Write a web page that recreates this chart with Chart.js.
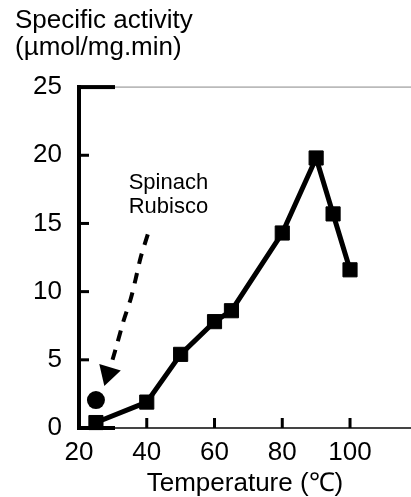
<!DOCTYPE html>
<html>
<head>
<meta charset="utf-8">
<script src="https://cdn.jsdelivr.net/npm/chart.js@4.4.1/dist/chart.umd.min.js"></script>
<style>
  html, body { margin: 0; padding: 0; background: #fff; }
  #wrap { width: 411px; height: 497px; }
</style>
</head>
<body>
<div id="wrap"><canvas id="chart" width="411" height="497"></canvas></div>
<script>
// thermophilic enzyme activity vs temperature
const temps = [25, 40, 50, 60, 65, 80, 90, 95, 100];
const activity = [0.4, 1.9, 5.4, 7.8, 8.6, 14.3, 19.8, 15.7, 11.6];

// spinach Rubisco reference point
const spinachTemp = [25];
const spinachActivity = [2.05];

// dashed arrow from the label down to the spinach point
const arrowX = [40.3, 38.2, 36.7, 35.3, 33.2, 31.4, 29.9];
const arrowY = [14.2, 12.5, 10.9, 9.5, 7.9, 6.3, 5.0];
const arrowHeadX = [28.6];
const arrowHeadY = [4.0];

const xTicks = [20, 40, 60, 80, 100];
const yTicks = [0, 5, 10, 15, 20, 25];

const noteLines = ["Spinach", "Rubisco"];
const noteX = 46.4;
const noteY = [18.0, 16.2];

const FONT = "'Liberation Sans', Arial, Helvetica, sans-serif";

function pts(xs, ys) {
    return xs.map((v, i) => ({x: v, y: ys[i]}));
}

// inward tick marks, frame corners and the text note
const frame = {
    id: "frame",
    beforeDatasetsDraw(chart) {
        let {ctx, chartArea: a, scales: {x, y}} = chart;
        ctx.save();
        ctx.fillStyle = "#000";
        yTicks.slice(1, -1).forEach(v => {
            let py = y.getPixelForValue(v);
            ctx.fillRect(a.left, py - 1.5, 10, 3);
        });
        xTicks.slice(1).forEach(v => {
            let px = x.getPixelForValue(v);
            ctx.fillRect(px - 1.5, a.bottom - 10, 3, 10);
        });
        // top edge of the frame
        ctx.fillStyle = "#888";
        ctx.fillRect(a.left, a.top - 0.5, a.right - a.left, 1);
        ctx.fillStyle = "#000";
        ctx.fillRect(a.left - 2, a.top - 2, 38, 4);
        ctx.fillRect(a.left - 2, a.bottom - 2, 38, 4);
        ctx.restore();
    },
    afterDraw(chart) {
        let {ctx, scales: {x, y}} = chart;
        ctx.save();
        ctx.fillStyle = "#000";
        ctx.font = "22px " + FONT;
        ctx.textAlign = "center";
        ctx.textBaseline = "middle";
        noteLines.forEach((t, i) => {
            ctx.fillText(t, x.getPixelForValue(noteX), y.getPixelForValue(noteY[i]));
        });
        ctx.restore();
    }
};

new Chart(document.getElementById("chart"), {
    type: "scatter",
    data: {
        datasets: [
            {
                data: pts(arrowX, arrowY),
                showLine: true,
                borderColor: "#000",
                borderWidth: 4,
                borderDash: [11, 9],
                tension: 0.3,
                pointRadius: 0,
                clip: false
            },
            {
                data: pts(arrowHeadX, arrowHeadY),
                pointStyle: "triangle",
                rotation: 197,
                pointRadius: 13,
                backgroundColor: "#000",
                borderColor: "#000",
                borderWidth: 0,
                clip: false
            },
            {
                data: pts(spinachTemp, spinachActivity),
                pointStyle: "circle",
                pointRadius: 9,
                backgroundColor: "#000",
                borderColor: "#000",
                borderWidth: 0,
                clip: false
            },
            {
                data: pts(temps, activity),
                showLine: true,
                borderColor: "#000",
                borderWidth: 5,
                pointStyle: "rect",
                pointRadius: 10,
                backgroundColor: "#000",
                pointBorderColor: "#000",
                pointBorderWidth: 1,
                clip: false
            }
        ]
    },
    options: {
        responsive: false,
        animation: false,
        layout: {autoPadding: false, padding: {top: 0, left: 15, right: 0, bottom: 0}},
        plugins: {
            legend: {display: false},
            tooltip: {enabled: false},
            title: {
                display: true,
                text: ["Specific activity", "(\u00b5mol/mg.min)"],
                align: "start",
                color: "#000",
                font: {family: FONT, size: 26, weight: "normal", lineHeight: 1.04},
                padding: {top: 7, bottom: 26}
            }
        },
        scales: {
            x: {
                type: "linear",
                min: 20,
                max: 118,
                afterBuildTicks: s => { s.ticks = xTicks.map(v => ({value: v})); },
                afterFit: s => { s.height = 69; s.paddingLeft = 0; s.paddingRight = 0; },
                grid: {display: false, drawTicks: false},
                border: {display: true, color: "#444", width: 2},
                ticks: {color: "#000", padding: 9, font: {family: FONT, size: 26}},
                title: {
                    display: true,
                    text: "Temperature (\u2103)",
                    color: "#000",
                    font: {family: FONT, size: 26, lineHeight: 1},
                    padding: {top: 0, bottom: 0}
                }
            },
            y: {
                min: 0,
                max: 25,
                afterBuildTicks: s => { s.ticks = yTicks.map(v => ({value: v})); },
                afterFit: s => { s.width = 64; },
                grid: {display: false, drawTicks: false},
                border: {display: true, color: "#000", width: 4},
                ticks: {color: "#000", padding: 17, font: {family: FONT, size: 26}}
            }
        }
    },
    plugins: [frame]
});
</script>
</body>
</html>
